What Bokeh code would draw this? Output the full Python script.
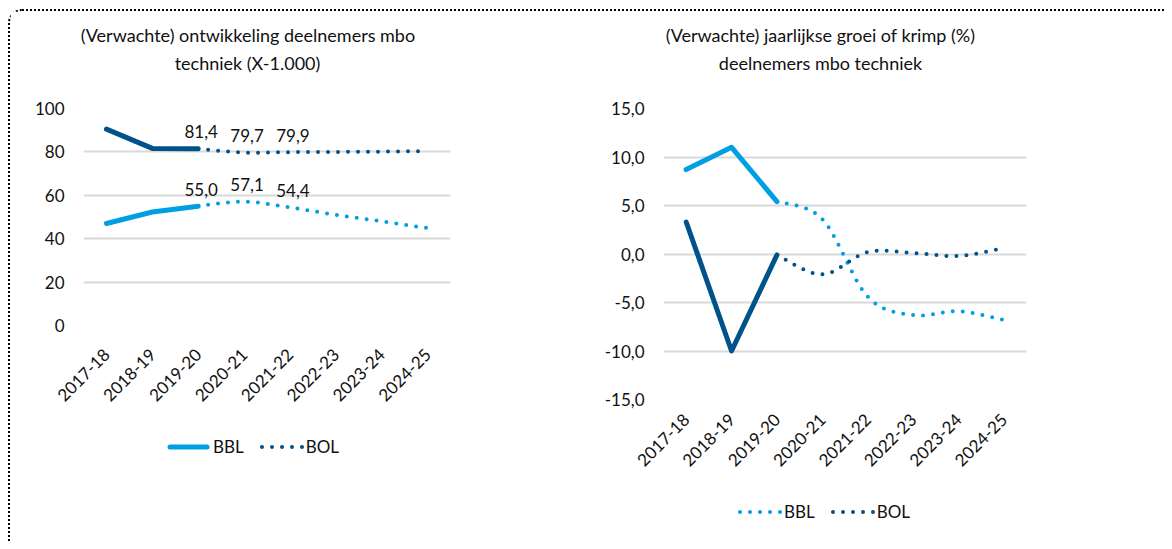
import numpy as np
from bokeh.plotting import figure
from bokeh.layouts import row, column
from bokeh.models import FixedTicker, Range1d, Title, Div
from bokeh.core.properties import value
from bokeh.embed import file_html
from bokeh.resources import INLINE

# ---------------- data ----------------
categories = ["2017-18", "2018-19", "2019-20", "2020-21", "2021-22", "2022-23", "2023-24", "2024-25"]
n_realised = 3  # 2017-18 .. 2019-20 realised (solid), from 2019-20 forecast (dotted)

# left: deelnemers x 1.000
bbl_count = [47.0, 52.3, 55.0, 57.1, 54.4, 51.0, 48.0, 44.9]
bol_count = [90.5, 81.6, 81.4, 79.7, 79.9, 80.0, 80.1, 80.4]
labelled_idx = [2, 3, 4]

# right: jaarlijkse groei of krimp (%)
bbl_growth = [8.7, 11.0, 5.4, 3.6, -4.4, -6.3, -5.9, -6.8]
bol_growth = [3.3, -10.0, -0.1, -2.1, 0.2, 0.1, -0.2, 0.6]

left_title = ["(Verwachte) ontwikkeling deelnemers mbo", "techniek (X-1.000)"]
right_title = ["(Verwachte) jaarlijkse groei of krimp (%)", "deelnemers mbo techniek"]
left_ticks = [0, 20, 40, 60, 80, 100]
right_ticks = [-15, -10, -5, 0, 5, 10, 15]
series_names = ["BBL", "BOL"]

# ---------------- style ----------------
FONT = "Lato"
FS = "17px"
FS_TITLE = "18px"
TXT = "#111111"
C_BBL = "#009FE3"
C_BOL = "#00528A"
GRID = "#D9D9D9"
LW = 5
DOT = "0 10"


def fmt(v):
    return f"{v:.1f}".replace(".", ",")


def smooth(xs, ys, n=30):
    """Excel-like smoothed curve (cubic Bezier, Catmull-Rom tangents)."""
    P = np.column_stack([np.asarray(xs, float), np.asarray(ys, float)])
    m = len(P)
    out = []
    for i in range(m - 1):
        p0 = P[i - 1] if i > 0 else P[i]
        p1, p2 = P[i], P[i + 1]
        p3 = P[i + 2] if i + 2 < m else P[i + 1]
        c1 = p1 + (p2 - p0) / 6.0
        c2 = p2 - (p3 - p1) / 6.0
        t = np.linspace(0, 1, n, endpoint=(i == m - 2))[:, None]
        b = (1 - t) ** 3 * p1 + 3 * (1 - t) ** 2 * t * c1 + 3 * (1 - t) * t ** 2 * c2 + t ** 3 * p2
        out.append(b)
    b = np.vstack(out)
    return b[:, 0], b[:, 1]


def base_fig(frame_w, frame_h, ml, mr, mt, mb, yr, ticks):
    p = figure(frame_width=frame_w, frame_height=frame_h, min_border_left=ml, min_border_right=mr,
               min_border_top=mt, min_border_bottom=mb, x_range=Range1d(-0.5, len(categories) - 0.5),
               y_range=Range1d(*yr), output_backend="svg", toolbar_location=None, title=None)
    p.outline_line_color = None
    p.background_fill_color = "white"
    p.border_fill_color = "white"
    p.xgrid.grid_line_color = None
    p.ygrid.grid_line_color = GRID
    p.ygrid.grid_line_width = 2
    p.yaxis.ticker = FixedTicker(ticks=ticks)
    p.yaxis.major_label_overrides = {t: (fmt(t) if min(ticks) < 0 else str(t)) for t in ticks}
    p.xaxis.ticker = FixedTicker(ticks=list(range(len(categories))))
    p.xaxis.major_label_overrides = {i: c for i, c in enumerate(categories)}
    p.xaxis.major_label_orientation = np.pi / 4
    for ax in (p.xaxis, p.yaxis):
        ax.axis_line_color = None
        ax.major_tick_line_color = None
        ax.minor_tick_line_color = None
        ax.major_tick_out = 0
        ax.major_label_text_font = FONT
        ax.major_label_text_font_size = FS
        ax.major_label_text_color = TXT
    p.yaxis.major_label_standoff = 19
    return p


def add_titles(p, lines, shifts):
    # line closest to the frame first
    pads = [dict(left=0, right=shifts[1], top=2, bottom=34),
            dict(left=0, right=shifts[0], top=0, bottom=2)]
    for txt, pad in zip(lines[::-1], pads):
        p.add_layout(Title(text=txt, align="center", vertical_align="middle", standoff=0,
                           padding=pad, text_font=FONT, text_font_size=FS_TITLE,
                           text_font_style="normal", text_color=TXT), "above")


def swatch(color, dotted):
    if dotted:
        line = (f'<line x1="2" y1="10" x2="42.5" y2="10" stroke="{color}" stroke-width="4" '
                f'stroke-linecap="round" stroke-dasharray="0 10"/>')
    else:
        line = (f'<line x1="3" y1="10" x2="40" y2="10" stroke="{color}" stroke-width="5" '
                f'stroke-linecap="round"/>')
    return f'<svg width="45" height="20" style="display:block">{line}</svg>'


def legend_div(width, height, entries, left, top):
    parts = []
    for k, (name, (color, dotted)) in enumerate(zip(series_names, entries)):
        gap = "16px" if k < len(series_names) - 1 else "0px"
        parts.append(swatch(color, dotted) +
                     f'<span style="margin-left:1px;margin-right:{gap}">{name}</span>')
    html = (f'<div style="display:flex;align-items:center;margin-left:{left}px;margin-top:{top}px;'
            f'font-family:{FONT};font-size:{FS};line-height:20px;color:{TXT}">'
            + "".join(parts) + "</div>")
    return Div(text=html, width=width, height=height,
               styles={"background-color": "white", "margin": "0", "padding": "0"})


solid_bbl = dict(line_color=C_BBL, line_width=LW, line_cap="round", line_join="round")
solid_bol = dict(line_color=C_BOL, line_width=LW, line_cap="round", line_join="round")
dot_bbl = dict(line_color=C_BBL, line_width=4, line_dash=DOT, line_cap="round")
dot_bol = dict(line_color=C_BOL, line_width=4, line_dash=DOT, line_cap="round")

idx = list(range(len(categories)))
r_idx = idx[:n_realised]
f_idx = idx[n_realised - 1:]

# ---------------- left chart ----------------
p1 = base_fig(367, 217, 73, 130, 97, 105, (0, 100), left_ticks)
p1.xaxis.major_label_standoff = 26
add_titles(p1, left_title, [38, 39])

p1.line(r_idx, bol_count[:n_realised], **solid_bol)
sx, sy = smooth(f_idx, bol_count[n_realised - 1:])
p1.line(sx, sy, **dot_bol)
p1.line(r_idx, bbl_count[:n_realised], **solid_bbl)
sx, sy = smooth(f_idx, bbl_count[n_realised - 1:])
p1.line(sx, sy, **dot_bbl)

for series in (bol_count, bbl_count):
    p1.text(x=labelled_idx, y=[series[i] for i in labelled_idx],
            text=[fmt(series[i]) for i in labelled_idx], x_offset=3, y_offset=-17,
            text_align="center", text_baseline="middle", text_font=value(FONT),
            text_font_size=FS, text_color=TXT)

lg1 = legend_div(570, 111, [(C_BBL, False), (C_BOL, True)], 157, 7)

# ---------------- right chart ----------------
p2 = base_fig(363, 291, 83, 138, 97, 95, (-15, 15), right_ticks)
p2.xaxis.major_label_standoff = 17
add_titles(p2, right_title, [49, 49])

p2.line(r_idx, bbl_growth[:n_realised], **solid_bbl)
sx, sy = smooth(f_idx, bbl_growth[n_realised - 1:])
p2.line(sx, sy, **dot_bbl)
p2.line(r_idx, bol_growth[:n_realised], **solid_bol)
sx, sy = smooth(f_idx, bol_growth[n_realised - 1:])
p2.line(sx, sy, **dot_bol)

lg2 = legend_div(584, 47, [(C_BBL, True), (C_BOL, True)], 158, 8)

layout = row(column(p1, lg1), column(p2, lg2),
             styles={"border-top": "2px dotted #000", "border-left": "2px dotted #000",
                     "border-top-left-radius": "14px",
                     "margin-left": "8px", "margin-top": "9px"})

open("out.html", "w").write(file_html(layout, INLINE))
